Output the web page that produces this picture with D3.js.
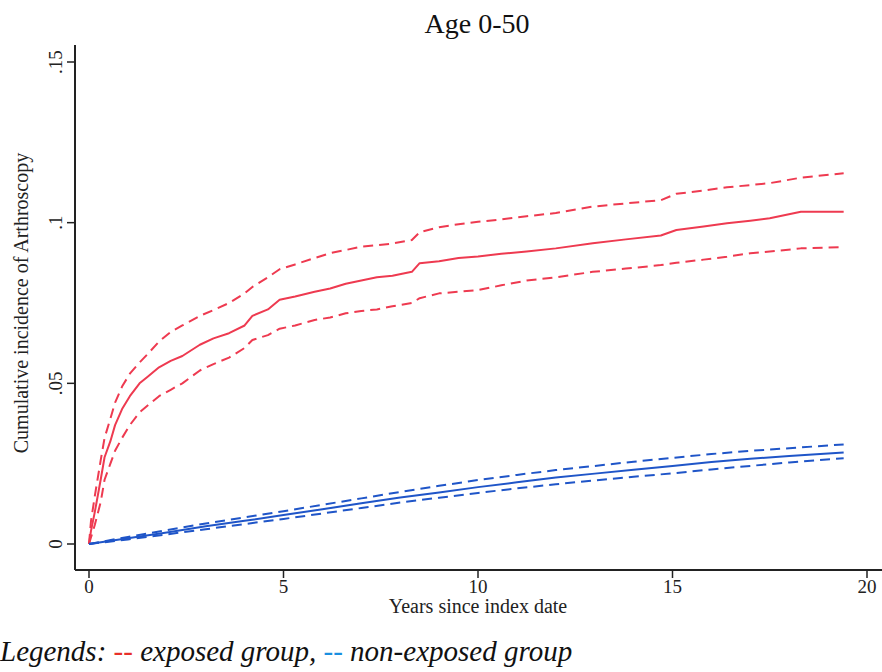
<!DOCTYPE html>
<html>
<head>
<meta charset="utf-8">
<script src="https://cdn.jsdelivr.net/npm/d3@7"></script>
<style>
  html, body { margin: 0; padding: 0; background: #fff; }
  svg { display: block; }
</style>
</head>
<body>
<svg id="chart" width="882" height="672"></svg>
<script>
const width = 882;
const height = 672;
const serif = "'Liberation Serif', 'Times New Roman', Times, 'DejaVu Serif', serif";

// exposed group (red)
const redTime  = [0, 0.05, 0.15, 0.3, 0.4, 0.55, 0.67, 0.85, 1.05, 1.3, 1.5, 1.8, 2.1, 2.4, 2.85, 3.2, 3.6, 4.0, 4.2, 4.6,
                  4.9, 5.3, 5.8, 6.2, 6.6, 7.0, 7.4, 7.8, 8.3, 8.5, 9.0, 9.5, 10.0, 10.6, 11.25, 12.0, 12.95, 13.8, 14.7, 15.1,
                  15.8, 16.4, 17.0, 17.5, 18.3, 19.4];
const redEst   = [0, 0.004, 0.01, 0.02, 0.027, 0.032, 0.037, 0.042, 0.046, 0.05, 0.052, 0.055, 0.057, 0.0585, 0.062, 0.064, 0.0656, 0.068, 0.071, 0.073,
                  0.076, 0.077, 0.0785, 0.0795, 0.081, 0.082, 0.083, 0.0835, 0.0847, 0.0874, 0.088, 0.089, 0.0895, 0.0903, 0.091, 0.092, 0.0936, 0.0948, 0.096, 0.0977,
                  0.0988, 0.0998, 0.1006, 0.1014, 0.1034, 0.1034];
const redUpper = [0, 0.007, 0.015, 0.026, 0.033, 0.039, 0.044, 0.049, 0.053, 0.0565, 0.059, 0.063, 0.066, 0.068, 0.071, 0.0728, 0.075, 0.078, 0.08, 0.083,
                  0.0855, 0.087, 0.089, 0.0905, 0.0915, 0.0925, 0.093, 0.0935, 0.0946, 0.097, 0.0986, 0.0995, 0.1003, 0.101, 0.102, 0.103, 0.105, 0.106, 0.107, 0.109,
                  0.110, 0.111, 0.1117, 0.1123, 0.114, 0.1154];
const redLower = [0, 0.002, 0.006, 0.013, 0.02, 0.025, 0.029, 0.033, 0.037, 0.041, 0.043, 0.046, 0.048, 0.050, 0.054, 0.056, 0.058, 0.061, 0.0635, 0.065,
                  0.067, 0.068, 0.0697, 0.0705, 0.0718, 0.0725, 0.073, 0.074, 0.075, 0.0765, 0.078, 0.0785, 0.079, 0.0805, 0.082, 0.083, 0.0847, 0.0857, 0.0868, 0.0875,
                  0.0885, 0.0894, 0.0905, 0.091, 0.092, 0.0924];

// non-exposed group (blue)
const blueTime  = [0, 1, 2, 3, 4, 5, 6, 7, 8, 9, 10, 11, 12, 13, 14, 15, 16, 17, 18, 19.4];
const blueEst   = [0, 0.0018, 0.0036, 0.0055, 0.0072, 0.009, 0.0108, 0.0127, 0.0145, 0.016, 0.0177, 0.0192, 0.0207, 0.0219, 0.0231, 0.0243, 0.0255, 0.0265, 0.0274, 0.0285];
const blueUpper = [0, 0.0022, 0.0043, 0.0064, 0.0083, 0.0102, 0.0122, 0.0142, 0.0162, 0.0181, 0.0199, 0.0215, 0.023, 0.0243, 0.0256, 0.0268, 0.028, 0.029, 0.0298, 0.031];
const blueLower = [0, 0.0014, 0.003, 0.0046, 0.0062, 0.0078, 0.0095, 0.0112, 0.0129, 0.0144, 0.0159, 0.0173, 0.0186, 0.0198, 0.0209, 0.022, 0.0232, 0.0243, 0.0254, 0.0267];

const xTicks = [0, 5, 10, 15, 20];
const yTicks = [0, 0.05, 0.1, 0.15];
const yTickLabels = ["0", ".05", ".1", ".15"];

const red = "#ee3a50";
const blue = "#1f55c8";

const svg = d3.select("#chart")
    .attr("font-family", serif)
    .style("font-family", serif);

const x = d3.scaleLinear().domain([0, 20]).range([89, 867]);
const y = d3.scaleLinear().domain([0, 0.15]).range([544, 62]);

// axes lines
svg.append("line")
    .attr("x1", 75).attr("x2", 75).attr("y1", 45).attr("y2", 570)
    .attr("stroke", "#222").attr("stroke-width", 2);
svg.append("line")
    .attr("x1", 75).attr("x2", 882).attr("y1", 570).attr("y2", 570)
    .attr("stroke", "#222").attr("stroke-width", 2);

// y ticks
const yAxis = svg.append("g");
yAxis.selectAll("line")
  .data(yTicks)
  .join("line")
    .attr("x1", 67).attr("x2", 75)
    .attr("y1", d => y(d)).attr("y2", d => y(d))
    .attr("stroke", "#222").attr("stroke-width", 1.5);
yAxis.selectAll("text")
  .data(yTicks)
  .join("text")
    .attr("transform", d => `translate(62,${y(d)}) rotate(-90)`)
    .attr("text-anchor", "middle")
    .attr("font-size", 19)
    .attr("fill", "#222")
    .text((d, i) => yTickLabels[i]);

// x ticks
const xAxis = svg.append("g");
xAxis.selectAll("line")
  .data(xTicks)
  .join("line")
    .attr("x1", d => x(d)).attr("x2", d => x(d))
    .attr("y1", 570).attr("y2", 578)
    .attr("stroke", "#222").attr("stroke-width", 1.5);
xAxis.selectAll("text")
  .data(xTicks)
  .join("text")
    .attr("x", d => x(d)).attr("y", 593)
    .attr("text-anchor", "middle")
    .attr("font-size", 19)
    .attr("fill", "#222")
    .text(d => d);

// titles
svg.append("text")
    .attr("x", 477).attr("y", 33)
    .attr("text-anchor", "middle")
    .attr("font-size", 28)
    .attr("fill", "#111")
    .text("Age 0-50");

svg.append("text")
    .attr("x", 478).attr("y", 613)
    .attr("text-anchor", "middle")
    .attr("font-size", 20)
    .attr("fill", "#222")
    .text("Years since index date");

svg.append("text")
    .attr("transform", "translate(28,303) rotate(-90)")
    .attr("text-anchor", "middle")
    .attr("font-size", 20)
    .attr("fill", "#222")
    .text("Cumulative incidence of Arthroscopy");

// curves
const line = d3.line()
    .x(d => x(d[0]))
    .y(d => y(d[1]));

const series = [
  { t: redTime, v: redUpper, color: red, dash: "10,6" },
  { t: redTime, v: redLower, color: red, dash: "10,6" },
  { t: redTime, v: redEst, color: red, dash: null },
  { t: blueTime, v: blueUpper, color: blue, dash: "10,6" },
  { t: blueTime, v: blueLower, color: blue, dash: "10,6" },
  { t: blueTime, v: blueEst, color: blue, dash: null }
];

svg.append("g")
  .selectAll("path")
  .data(series)
  .join("path")
    .attr("d", s => line(s.t.map((t, i) => [t, s.v[i]])))
    .attr("fill", "none")
    .attr("stroke", s => s.color)
    .attr("stroke-width", 2)
    .attr("stroke-linejoin", "round")
    .attr("stroke-dasharray", s => s.dash);

// legend line
const legend = svg.append("text")
    .attr("x", 0).attr("y", 661)
    .attr("font-size", 29)
    .attr("font-style", "italic")
    .attr("fill", "#111");
legend.append("tspan").text("Legends: ");
legend.append("tspan").attr("fill", "#e8302a").text("--");
legend.append("tspan").text(" exposed group, ");
legend.append("tspan").attr("fill", "#1a8fe0").text("--");
legend.append("tspan").text(" non-exposed group");
</script>
</body>
</html>
